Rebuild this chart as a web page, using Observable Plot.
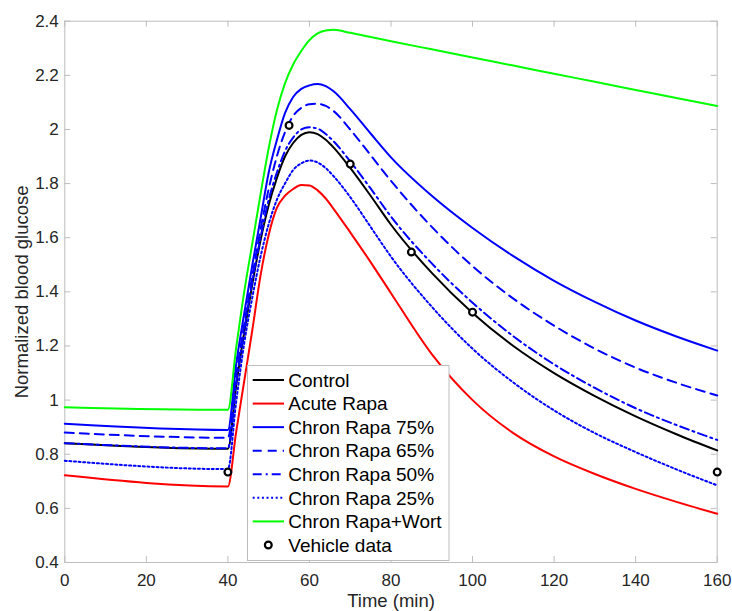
<!DOCTYPE html>
<html><head><meta charset="utf-8">
<script src="https://cdn.jsdelivr.net/npm/d3@7"></script>
<script src="https://cdn.jsdelivr.net/npm/@observablehq/plot@0.6"></script>
<style>
body{margin:0;background:#fff;}
#wrap{position:relative;width:732px;height:611px;font-family:"Liberation Sans",Arial,Helvetica,sans-serif;}
</style></head><body><div id="wrap"></div>
<script>
// Time grid (min)
const time = [0,40,42,44,46,48,50,52,54,56,58,60,62,64,66,70,75,80,90,100,110,120,130,140,150,160];
// Model curves (normalized blood glucose)
const control   = [0.841,0.820,1.05,1.25,1.43,1.59,1.72,1.82,1.90,1.95,1.98,1.99,1.983,1.962,1.932,1.858,1.755,1.648,1.47,1.322,1.2,1.1,1.015,0.94,0.874,0.814];
const acuteRapa = [0.722,0.681,0.88,1.07,1.26,1.46,1.61,1.71,1.755,1.78,1.795,1.793,1.775,1.745,1.705,1.62,1.51,1.395,1.17,1.0,0.878,0.792,0.727,0.672,0.624,0.58];
const chron75   = [0.913,0.890,1.13,1.32,1.50,1.67,1.84,1.96,2.06,2.12,2.15,2.163,2.168,2.160,2.14,2.075,1.985,1.897,1.755,1.636,1.532,1.441,1.363,1.294,1.235,1.183];
const chron65   = [0.880,0.861,1.09,1.28,1.46,1.63,1.78,1.90,1.99,2.05,2.08,2.093,2.095,2.087,2.067,2.0,1.905,1.81,1.64,1.495,1.375,1.275,1.19,1.12,1.064,1.017];
const chron50   = [0.841,0.822,1.06,1.26,1.44,1.60,1.74,1.84,1.92,1.97,2.00,2.008,2.003,1.983,1.955,1.882,1.782,1.678,1.505,1.36,1.236,1.132,1.045,0.97,0.908,0.853];
const chron25   = [0.776,0.745,0.99,1.21,1.38,1.53,1.65,1.74,1.80,1.85,1.875,1.885,1.878,1.857,1.826,1.75,1.64,1.53,1.345,1.19,1.065,0.962,0.878,0.808,0.744,0.685];
const chronWort = [0.974,0.964,1.19,1.40,1.58,1.76,1.93,2.07,2.17,2.24,2.29,2.33,2.355,2.366,2.368,2.357,2.342,2.326,2.296,2.266,2.236,2.206,2.176,2.146,2.116,2.087];
// Vehicle data
const vehicleTime = [40,55,70,85,100,160];
const vehicleValue = [0.734,2.015,1.872,1.547,1.325,0.734];
// Ticks
const xTicks = [0,20,40,60,80,100,120,140,160];
const yTicks = [0.4,0.6,0.8,1.0,1.2,1.4,1.6,1.8,2.0,2.2,2.4];

const seriesNames = ["Control","Acute Rapa","Chron Rapa 75%","Chron Rapa 65%","Chron Rapa 50%","Chron Rapa 25%","Chron Rapa+Wort"];
const seriesValues = [control, acuteRapa, chron75, chron65, chron50, chron25, chronWort];
const seriesColors = ["#000000","#ff0000","#0000ff","#0000ff","#0000ff","#0000ff","#00ff00"];
const seriesDash = [null,null,null,"9,6","9,4,2,4","2,2.6",null];

const W = 732, H = 611;
const mL = 64.3, mR = 15.3, mT = 20.7, mB = 49;
const innerW = W - mL - mR, innerH = H - mT - mB;
const font = '"Liberation Sans", Arial, Helvetica, sans-serif';
const gridGray = "#bdbdbd";

const lineMarks = seriesValues.map((vals, k) =>
  Plot.line(time, {x: d => d, y: (d, i) => vals[i], stroke: seriesColors[k], strokeWidth: 2,
    strokeDasharray: seriesDash[k], curve: "monotone-x"})
);

const chart = Plot.plot({
  width: W, height: H,
  marginLeft: mL, marginRight: mR, marginTop: mT, marginBottom: mB,
  style: {fontFamily: font, fontSize: "17px", background: "#fff", color: "#262626", overflow: "visible"},
  x: {domain: [0, 160], ticks: xTicks},
  y: {domain: [0.4, 2.4], ticks: yTicks},
  marks: [
    Plot.frame({stroke: gridGray, strokeWidth: 1}),
    Plot.tickX(xTicks, {x: d => d, stroke: gridGray, insetTop: innerH - 6}),
    Plot.tickX(xTicks, {x: d => d, stroke: gridGray, insetBottom: innerH - 6}),
    Plot.tickY(yTicks, {y: d => d, stroke: gridGray, insetRight: innerW - 6}),
    Plot.tickY(yTicks, {y: d => d, stroke: gridGray, insetLeft: innerW - 6}),
    Plot.axisX(xTicks, {anchor: "bottom", tickSize: 0, tickPadding: 11, fontSize: 17, fill: "#262626",
      label: "Time (min)", labelAnchor: "center", labelArrow: "none", labelOffset: 44}),
    Plot.axisY(yTicks, {anchor: "left", tickSize: 0, tickPadding: 6, fontSize: 17, fill: "#262626",
      tickFormat: d => String(+d.toFixed(1)),
      label: "Normalized blood glucose", labelAnchor: "center", labelArrow: "none", labelOffset: 50}),
    ...lineMarks,
    Plot.dot(vehicleTime, {x: d => d, y: (d, i) => vehicleValue[i], r: 3.4, stroke: "#000", strokeWidth: 2.2, fill: "#fff"})
  ]
});
chart.querySelectorAll('g[aria-label="x-axis label"] text, g[aria-label="y-axis label"] text').forEach(t => t.setAttribute("font-size", "18.5"));
chart.querySelectorAll('g[aria-label="x-axis label"], g[aria-label="y-axis label"]').forEach(g => g.setAttribute("font-size", "18.5"));
document.getElementById("wrap").appendChild(chart);

// Legend overlay
const ns = "http://www.w3.org/2000/svg";
const leg = document.createElementNS(ns, "svg");
leg.setAttribute("width", W); leg.setAttribute("height", H);
leg.style.position = "absolute"; leg.style.left = "0"; leg.style.top = "0";
const box = document.createElementNS(ns, "rect");
box.setAttribute("x", 247.5); box.setAttribute("y", 365.5); box.setAttribute("width", 201.5); box.setAttribute("height", 195);
box.setAttribute("fill", "#fff"); box.setAttribute("stroke", gridGray);
leg.appendChild(box);
const legNames = [...seriesNames, "Vehicle data"];
legNames.forEach((name, k) => {
  const y = 380 + k * 23.57;
  if (k < seriesNames.length) {
    const ln = document.createElementNS(ns, "line");
    ln.setAttribute("x1", 252.7); ln.setAttribute("x2", 284);
    ln.setAttribute("y1", y); ln.setAttribute("y2", y);
    ln.setAttribute("stroke", seriesColors[k]); ln.setAttribute("stroke-width", 2);
    if (seriesDash[k]) ln.setAttribute("stroke-dasharray", seriesDash[k]);
    leg.appendChild(ln);
  } else {
    const c = document.createElementNS(ns, "circle");
    c.setAttribute("cx", 268.3); c.setAttribute("cy", y); c.setAttribute("r", 3.4);
    c.setAttribute("fill", "#fff"); c.setAttribute("stroke", "#000"); c.setAttribute("stroke-width", 2.2);
    leg.appendChild(c);
  }
  const tx = document.createElementNS(ns, "text");
  tx.setAttribute("x", 288.3); tx.setAttribute("y", y);
  tx.setAttribute("dy", "0.35em");
  tx.setAttribute("font-family", font); tx.setAttribute("font-size", 19);
  tx.setAttribute("fill", "#000");
  tx.textContent = name;
  leg.appendChild(tx);
});
document.getElementById("wrap").appendChild(leg);
</script>
</body></html>
